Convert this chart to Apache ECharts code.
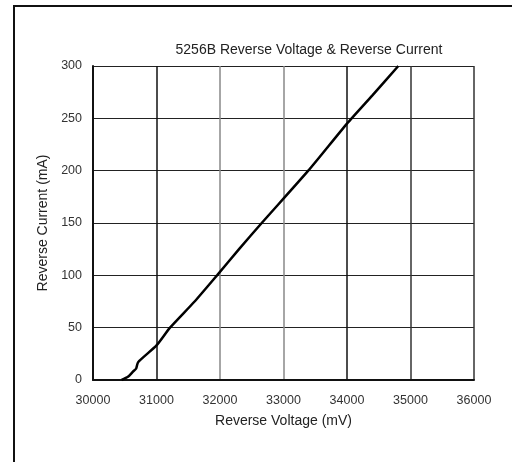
<!DOCTYPE html>
<html>
<head>
<meta charset="utf-8">
<script src="https://cdn.jsdelivr.net/npm/echarts@6/dist/echarts.min.js"></script>
<style>
  html, body { margin: 0; padding: 0; background: #fff; }
  #chart { width: 512px; height: 462px; }
</style>
</head>
<body>
<div id="chart"></div>
<script>
// Reverse voltage (mV) vs reverse current (mA) for the 5256B
const voltage = [30450, 30550, 30630, 30680, 30710, 31000, 31213, 31600, 31953, 32300, 32657, 33390, 34000, 34400, 34808];
const current = [0, 3, 8, 11, 17, 33, 50, 75, 100, 125, 150, 200, 245, 272, 300];

const xTicks = [30000, 31000, 32000, 33000, 34000, 35000, 36000];
const yTicks = [0, 50, 100, 150, 200, 250, 300];

const font = '"Liberation Sans", Arial, sans-serif';

const chart = echarts.init(document.getElementById('chart'), null, { renderer: 'canvas' });

chart.setOption({
  backgroundColor: '#ffffff',
  animation: false,
  title: {
    text: '5256B Reverse Voltage & Reverse Current',
    left: 304,
    top: 38,
    textAlign: 'center',
    textStyle: { fontFamily: font, fontSize: 14, fontWeight: 'normal', color: '#222' }
  },
  graphic: [
    { type: 'line', shape: { x1: 14, y1: 6, x2: 14, y2: 462 }, style: { stroke: '#111', lineWidth: 2 } },
    { type: 'line', shape: { x1: 13, y1: 6, x2: 512, y2: 6 }, style: { stroke: '#111', lineWidth: 2 } }
  ],
  grid: { left: 93, right: 38, top: 66, bottom: 82 },
  xAxis: {
    type: 'value',
    min: xTicks[0],
    max: xTicks[xTicks.length - 1],
    interval: 1000,
    name: 'Reverse Voltage (mV)',
    nameLocation: 'middle',
    nameGap: 34,
    nameTextStyle: { fontFamily: font, fontSize: 14, color: '#222' },
    axisLine: { lineStyle: { color: '#111', width: 2 } },
    axisTick: { show: false },
    axisLabel: { fontFamily: font, fontSize: 12.5, color: '#333', margin: 14, formatter: v => String(v) },
    splitLine: { show: true, lineStyle: { color: ['#000', '#111', '#888', '#888', '#111', '#333', '#333'], width: 1.5 } }
  },
  yAxis: {
    type: 'value',
    min: yTicks[0],
    max: yTicks[yTicks.length - 1],
    interval: 50,
    name: 'Reverse Current (mA)',
    nameLocation: 'middle',
    nameGap: 39,
    nameTextStyle: { fontFamily: font, fontSize: 14, color: '#222' },
    axisLine: { show: true, lineStyle: { color: '#111', width: 2 } },
    axisTick: { show: false },
    axisLabel: { fontFamily: font, fontSize: 12.5, color: '#333', margin: 11, formatter: v => String(v) },
    splitLine: { show: true, lineStyle: { color: '#222', width: 1 } }
  },
  series: [{
    type: 'line',
    data: voltage.map((v, i) => [v, current[i]]),
    showSymbol: false,
    smooth: 0.2,
    lineStyle: { color: '#000', width: 2.5 }
  }]
});
</script>
</body>
</html>
